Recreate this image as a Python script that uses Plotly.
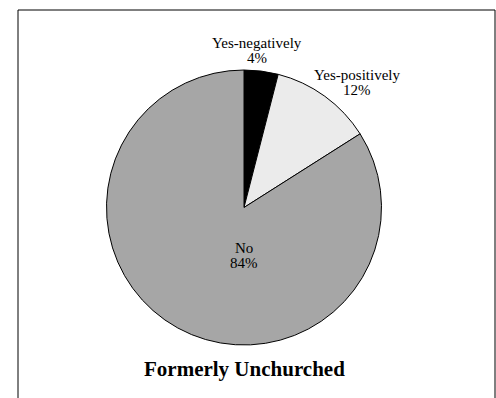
import plotly.graph_objects as go

labels = ["Yes-negatively", "Yes-positively", "No"]
values = [4, 12, 84]
colors = ["#000000", "#EBEBEB", "#A6A6A6"]
title_text = "Formerly Unchurched"

W, H = 496, 398
cx, cy, r = 244, 207.5, 137.5

# label anchor positions (pixels, centre of the first line)
label_pos = [(257, 43), (357, 75.5), (244, 248)]
line_gap = 15

fig = go.Figure(go.Pie(
    labels=labels,
    values=values,
    sort=False,
    direction="clockwise",
    rotation=0,
    marker=dict(colors=colors, line=dict(color="#000000", width=1)),
    textinfo="none",
    domain=dict(x=[(cx - r) / W, (cx + r) / W], y=[1 - (cy + r) / H, 1 - (cy - r) / H]),
    showlegend=False,
    hoverinfo="skip",
))

total = sum(values)
font = dict(family="Liberation Serif", size=15, color="#000000")
for lab, val, (px, py) in zip(labels, values, label_pos):
    pct = "%d%%" % round(100 * val / total)
    for i, t in enumerate([lab, pct]):
        fig.add_annotation(text=t, xref="paper", yref="paper",
                           x=px / W, y=1 - (py + i * line_gap) / H,
                           showarrow=False, xanchor="center", yanchor="middle",
                           font=font)

fig.add_shape(type="rect", xref="paper", yref="paper",
              x0=18 / W, x1=495 / W, y0=-0.1, y1=1 - 10 / H,
              line=dict(color="#000000", width=1))

fig.add_annotation(text="<b>%s</b>" % title_text, xref="paper", yref="paper",
                   x=cx / W, y=1 - 369 / H, showarrow=False,
                   xanchor="center", yanchor="middle",
                   font=dict(family="Liberation Serif", size=21, color="#000000"))

fig.update_layout(width=W, height=H, margin=dict(l=0, r=0, t=0, b=0),
                  paper_bgcolor="white", plot_bgcolor="white")

fig.write_html("out.html")
